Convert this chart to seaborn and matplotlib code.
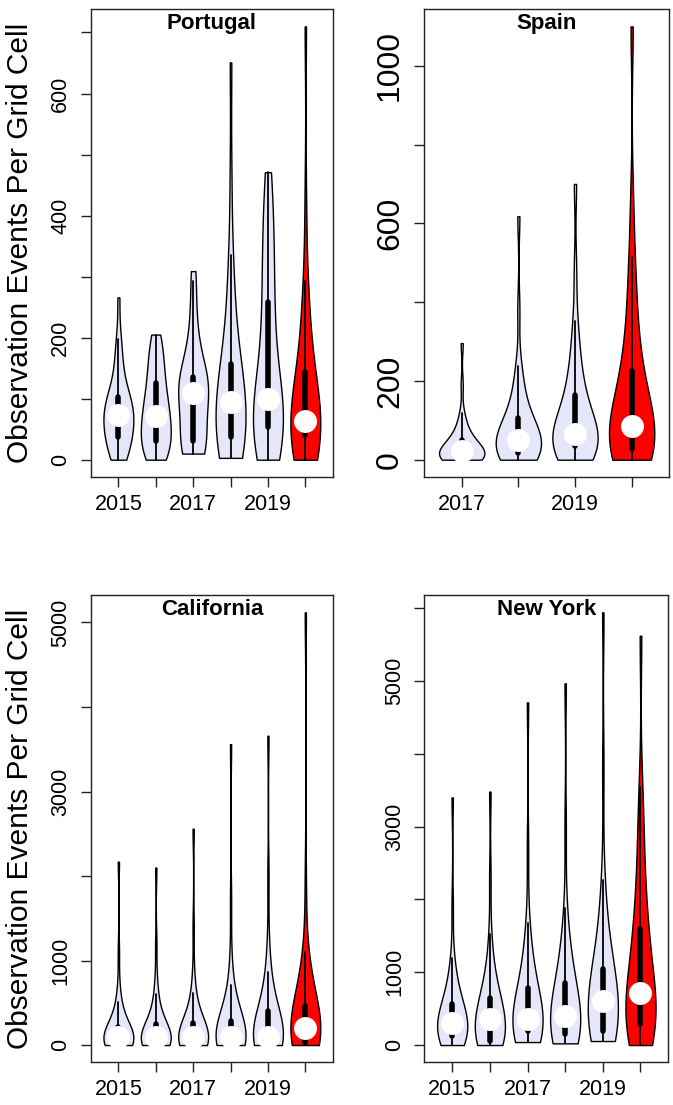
import numpy as np
import pandas as pd
import matplotlib
matplotlib.use("Agg")
import matplotlib.pyplot as plt
import seaborn as sns

sns.set_style("ticks")
plt.rcParams["font.family"] = ["Liberation Sans", "DejaVu Sans"]
plt.rcParams["text.color"] = "black"
plt.rcParams["axes.labelcolor"] = "black"
plt.rcParams["xtick.color"] = "black"
plt.rcParams["ytick.color"] = "black"

# Lata na osi x
years_all = ["2015", "2016", "2017", "2018", "2019", "2020"]
years_es = ["2017", "2018", "2019", "2020"]

# Portugalia - liczba obserwacji na komórkę siatki
pt_2015 = [0, 2, 6, 11, 17, 23, 29, 34, 37, 42, 47, 52, 57, 61, 65, 69, 73,
           76, 80, 84, 88, 92, 95, 99, 102, 110, 120, 132, 147, 165, 185, 197, 266]
pt_2016 = [0, 2, 5, 9, 13, 18, 23, 27, 30, 36, 42, 48, 54, 59, 64, 68, 72,
           77, 83, 90, 97, 104, 111, 118, 126, 135, 145, 155, 165, 175, 185, 195, 205]
pt_2017 = [10, 11, 12, 14, 16, 19, 23, 27, 30, 42, 55, 67, 78, 88, 97, 104, 110,
           114, 118, 122, 125, 128, 131, 134, 136, 148, 162, 178, 196, 218, 245, 292, 309]
pt_2018 = [3, 4, 6, 8, 11, 15, 21, 28, 37, 44, 51, 58, 65, 72, 80, 87, 94,
           101, 109, 117, 125, 133, 141, 149, 157, 180, 205, 235, 265, 300, 335, 460, 651]
pt_2019 = [0, 3, 7, 12, 18, 26, 35, 45, 53, 60, 67, 73, 79, 85, 90, 95, 100,
           112, 128, 148, 170, 195, 220, 240, 259, 285, 310, 335, 360, 385, 410, 440, 471]
pt_2020 = [0, 2, 5, 9, 14, 20, 27, 34, 40, 43, 46, 49, 52, 55, 58, 61, 63,
           70, 80, 90, 100, 112, 124, 134, 143, 160, 180, 205, 235, 265, 292, 420, 710]

# Hiszpania
es_2017 = [0, 0, 1, 1, 2, 2, 3, 3, 4, 6, 8, 10, 12, 14, 17, 20, 22,
           25, 28, 31, 35, 39, 43, 47, 50, 56, 64, 74, 86, 100, 119, 190, 296]
es_2018 = [0, 2, 4, 6, 9, 12, 14, 16, 18, 23, 28, 33, 37, 41, 45, 48, 51,
           57, 63, 70, 77, 85, 93, 100, 106, 120, 138, 160, 185, 210, 238, 380, 618]
es_2019 = [0, 4, 9, 14, 19, 24, 29, 33, 36, 40, 44, 48, 52, 56, 60, 63, 66,
           76, 88, 100, 112, 125, 139, 151, 163, 182, 205, 232, 262, 300, 353, 480, 700]
es_2020 = [0, 3, 7, 11, 15, 19, 23, 26, 28, 35, 43, 51, 59, 66, 73, 79, 85,
           100, 118, 136, 155, 175, 195, 210, 224, 260, 300, 345, 395, 450, 515, 650, 1100]

# Kalifornia
ca_2015 = [0, 1, 2, 2, 3, 3, 4, 4, 5, 15, 28, 42, 55, 68, 80, 90, 100,
           112, 125, 138, 152, 168, 184, 200, 215, 260, 320, 390, 450, 515, 700, 1100, 2170]
ca_2016 = [0, 1, 2, 2, 3, 3, 4, 4, 5, 15, 28, 42, 55, 68, 80, 90, 100,
           118, 136, 155, 175, 196, 216, 234, 250, 300, 360, 430, 510, 600, 800, 1200, 2100]
ca_2017 = [0, 1, 2, 2, 3, 3, 4, 4, 5, 15, 28, 42, 55, 68, 80, 90, 100,
           118, 136, 155, 175, 196, 218, 238, 255, 305, 365, 435, 515, 620, 850, 1400, 2560]
ca_2018 = [0, 1, 2, 2, 3, 3, 4, 4, 5, 15, 28, 42, 55, 68, 80, 90, 100,
           122, 145, 170, 195, 220, 245, 268, 290, 350, 420, 500, 600, 705, 1000, 1700, 3560]
ca_2019 = [0, 4, 8, 12, 16, 20, 24, 27, 30, 40, 50, 60, 70, 80, 88, 94, 100,
           135, 170, 210, 250, 295, 340, 370, 400, 470, 550, 640, 740, 870, 1200, 2000, 3660]
ca_2020 = [0, 3, 6, 9, 12, 14, 16, 18, 20, 45, 70, 95, 120, 145, 165, 183, 200,
           235, 270, 305, 340, 375, 410, 435, 460, 540, 630, 730, 840, 960, 1100, 1900, 5120]

# Nowy Jork
ny_2015 = [0, 15, 30, 45, 60, 75, 90, 108, 124, 150, 175, 200, 225, 250, 270, 290, 307,
           335, 365, 395, 425, 460, 495, 528, 559, 620, 700, 790, 890, 1000, 1200, 1900, 3400]
ny_2016 = [0, 7, 14, 21, 28, 35, 42, 49, 55, 95, 135, 175, 215, 255, 290, 322, 353,
           390, 430, 470, 510, 550, 590, 620, 651, 730, 820, 920, 1040, 1200, 1520, 2300, 3480]
ny_2017 = [41, 60, 80, 100, 120, 140, 158, 175, 190, 210, 230, 250, 270, 292, 315, 335, 353,
           410, 470, 530, 590, 650, 710, 755, 790, 880, 980, 1100, 1240, 1420, 1680, 2700, 4705]
ny_2018 = [23, 40, 58, 76, 94, 110, 124, 136, 147, 180, 215, 250, 285, 320, 350, 375, 399,
           460, 530, 600, 670, 740, 800, 830, 857, 960, 1080, 1210, 1350, 1520, 1880, 3000, 4966]
ny_2019 = [55, 75, 95, 115, 135, 155, 170, 182, 193, 250, 310, 370, 430, 490, 540, 575, 605,
           660, 720, 780, 840, 900, 960, 1005, 1040, 1160, 1300, 1460, 1640, 1900, 2260, 3800, 5941]
ny_2020 = [0, 40, 80, 120, 160, 200, 235, 262, 284, 340, 400, 460, 520, 580, 635, 680, 720,
           820, 930, 1050, 1170, 1290, 1410, 1510, 1590, 1780, 1990, 2230, 2500, 2800, 3150, 3540, 5620]

# Podziałki osi y i etykiety, które są wypisane
pt_yticks = [0, 100, 200, 300, 400, 500, 600, 700]
pt_ylabels = [0, 200, 400, 600]
es_yticks = [0, 200, 400, 600, 800, 1000]
es_ylabels = [0, 200, 600, 1000]
ca_yticks = [0, 1000, 2000, 3000, 4000, 5000]
ca_ylabels = [0, 1000, 3000, 5000]
ny_yticks = [0, 1000, 2000, 3000, 4000, 5000, 6000]
ny_ylabels = [0, 1000, 3000, 5000]
shown_years = ["2015", "2017", "2019"]

panels = [
    ("Portugal", years_all, [pt_2015, pt_2016, pt_2017, pt_2018, pt_2019, pt_2020],
     pt_yticks, pt_ylabels, 15.5, 1.0, [0.1348, 0.5683, 0.3600, 0.4235], True),
    ("Spain", years_es, [es_2017, es_2018, es_2019, es_2020],
     es_yticks, es_ylabels, 23, 0.85, [0.6305, 0.5683, 0.3636, 0.4235], False),
    ("California", years_all, [ca_2015, ca_2016, ca_2017, ca_2018, ca_2019, ca_2020],
     ca_yticks, ca_ylabels, 15.5, 0.85, [0.1348, 0.0386, 0.3600, 0.4229], True),
    ("New York", years_all, [ny_2015, ny_2016, ny_2017, ny_2018, ny_2019, ny_2020],
     ny_yticks, ny_ylabels, 15.5, 0.9, [0.6305, 0.0386, 0.3626, 0.4229], False),
]

fig = plt.figure(figsize=(6.73, 11.05), dpi=100)

for name, years, series, yticks, ylabels, ysize, bw, rect, with_ylabel in panels:
    ax = fig.add_axes(rect)
    df = pd.DataFrame({
        "year": np.repeat(years, [len(s) for s in series]),
        "value": np.concatenate(series),
    })
    colors = {y: ("#FF0000" if y == "2020" else "#E6E6FA") for y in years}

    sns.violinplot(data=df, x="year", y="value", hue="year", order=years, hue_order=years,
                   palette=colors, legend=False, saturation=1, cut=0, density_norm="width",
                   width=0.8, bw_adjust=bw, linewidth=1, linecolor="black",
                   inner="box", inner_kws=dict(box_width=4, whis_width=1.3), ax=ax)
    # mediana jako duża biała kropka (jak w vioplot)
    sns.pointplot(data=df, x="year", y="value", order=years, estimator="median",
                  errorbar=None, linestyle="none", marker="o", color="white",
                  markersize=16.5, markeredgewidth=0, zorder=10, ax=ax)

    n = len(years)
    vmin, vmax = df["value"].min(), df["value"].max()
    pad = 0.04 * (vmax - vmin)
    ax.set_xlim(-0.5 - 0.04 * n, n - 0.5 + 0.04 * n)
    ax.set_ylim(vmin - pad, vmax + pad)

    ax.set_xticks(range(n))
    ax.set_xticklabels([y if y in shown_years else "" for y in years])
    ax.set_yticks(yticks)
    ax.set_yticklabels([str(t) if t in ylabels else "" for t in yticks],
                       rotation=90, va="center")
    ax.tick_params(axis="x", length=7, width=1, color="#222222", labelsize=15.5, pad=5)
    ax.tick_params(axis="y", length=7, width=1, color="#222222", labelsize=ysize, pad=7)
    for spine in ax.spines.values():
        spine.set_visible(True)
        spine.set_color("#222222")
        spine.set_linewidth(1)

    ax.text(0.5, 0.957, name, transform=ax.transAxes, ha="center", va="baseline",
            fontsize=16, fontweight="bold")
    ax.set_xlabel("")
    if with_ylabel:
        ax.set_ylabel("Observation Events Per Grid Cell", fontsize=21.5)
        ax.yaxis.set_label_coords(-0.235, 0.5)
    else:
        ax.set_ylabel("")

fig.savefig("out.png", dpi=100)
